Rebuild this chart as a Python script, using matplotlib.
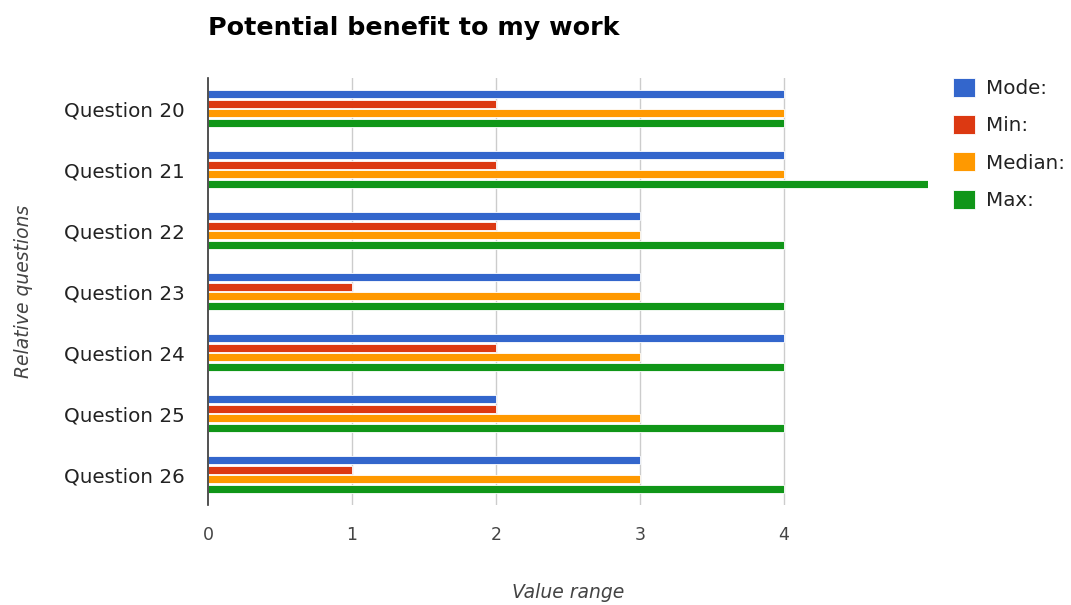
"""Grouped horizontal bars: mode/min/median/max ratings per survey question."""
import matplotlib.pyplot as plt
import numpy as np
from matplotlib.patches import Patch

questions = ["Question 20", "Question 21", "Question 22", "Question 23",
             "Question 24", "Question 25", "Question 26"]
mode_vals = [4, 4, 3, 3, 4, 2, 3]
min_vals = [2, 2, 2, 1, 2, 2, 1]
median_vals = [4, 4, 3, 3, 3, 3, 3]
max_vals = [4, 5, 4, 4, 4, 4, 4]

series_names = ["Mode:", "Min:", "Median:", "Max:"]
series_colors = ["#3366cc", "#dc3912", "#ff9900", "#109618"]
x_ticks = [0, 1, 2, 3, 4]

W, H = 1071, 605
fig = plt.figure(figsize=(W / 100, H / 100), dpi=100)
ax = fig.add_axes([208 / W, 1 - 505 / H, (928 - 208) / W, (505 - 78) / H])

rows = np.arange(len(questions))
pitch = 0.158
offsets = (np.arange(4) - 1.5) * pitch
for vals, off, color in zip([mode_vals, min_vals, median_vals, max_vals],
                            offsets, series_colors):
    ax.barh(rows + off, vals, height=0.135, color=color,
            edgecolor="white", linewidth=0.6, zorder=3)

ax.set_xlim(0, 5)
ax.set_ylim(len(questions) - 0.5, -0.5)
ax.set_yticks(rows)
ax.set_yticklabels(questions, fontsize=14.3, color="#222222")
ax.set_xticks(x_ticks)
ax.set_xticklabels([str(t) for t in x_ticks], fontsize=12.5, color="#444444")
ax.tick_params(axis="both", length=0)
ax.tick_params(axis="y", pad=17)
ax.tick_params(axis="x", pad=15)

for t in x_ticks[1:]:
    ax.axvline(t, color="#cccccc", linewidth=1, zorder=1)
for side in ("top", "right", "bottom"):
    ax.spines[side].set_visible(False)
ax.spines["left"].set_color("#333333")
ax.spines["left"].set_linewidth(1.2)
ax.spines["left"].set_zorder(4)

ax.set_xlabel("Value range", fontsize=13.5, style="italic", color="#444444")
ax.set_ylabel("Relative questions", fontsize=13.5, style="italic",
              color="#444444", labelpad=22)
ax.xaxis.set_label_coords(0.5, -(593 - 505) / (505 - 78), transform=ax.transAxes)
ax.xaxis.label.set_va("center")

fig.text(208 / W, 1 - 28 / H, "Potential benefit to my work",
         fontsize=18.3, fontweight="bold", color="#000000",
         ha="left", va="center")

handles = [Patch(facecolor=c, edgecolor="white", linewidth=0.6)
           for c in series_colors]
fig.legend(handles, series_names, loc="upper left",
           bbox_to_anchor=(953 / W, 1 - 78 / H), frameon=False,
           fontsize=14.3, borderpad=0, borderaxespad=0,
           handlelength=1.1, handleheight=1.1, handletextpad=0.55,
           labelspacing=0.85, labelcolor="#222222")

fig.savefig("out.png", dpi=100)
